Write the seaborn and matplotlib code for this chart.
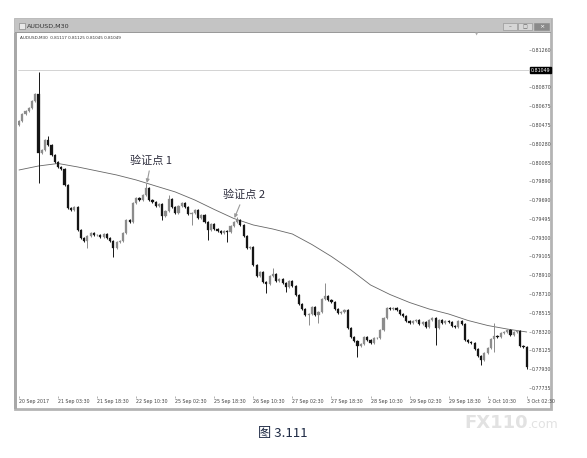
import matplotlib
matplotlib.use("Agg")
import matplotlib.pyplot as plt
import matplotlib.transforms as mtrans
from matplotlib.patches import Rectangle
import numpy as np
import pandas as pd
import seaborn as sns

# ---------------- data ----------------
first_open = 0.80480
closes = [
    0.80519, 0.80592, 0.80623, 0.80654, 0.80728, 0.80801, 0.80185, 0.80216, 0.80320, 0.80268,
    0.80164, 0.80091, 0.80039, 0.80018, 0.79851, 0.79610, 0.79590, 0.79621, 0.79381, 0.79297,
    0.79266, 0.79318, 0.79349, 0.79329, 0.79329, 0.79308, 0.79339, 0.79297, 0.79266, 0.79193,
    0.79256, 0.79266, 0.79349, 0.79485, 0.79464, 0.79663, 0.79715, 0.79694, 0.79746, 0.79819,
    0.79694, 0.79673, 0.79631, 0.79652, 0.79527, 0.79579, 0.79704, 0.79621, 0.79558, 0.79631,
    0.79663, 0.79621, 0.79548, 0.79558, 0.79590, 0.79506, 0.79537, 0.79464, 0.79381, 0.79443,
    0.79391, 0.79370, 0.79349, 0.79370, 0.79360, 0.79423, 0.79464, 0.79485, 0.79433, 0.79318,
    0.79193, 0.79203, 0.79015, 0.78901, 0.78942, 0.78838, 0.78817, 0.78901, 0.78921, 0.78848,
    0.78869, 0.78827, 0.78786, 0.78848, 0.78796, 0.78702, 0.78608, 0.78556, 0.78493, 0.78504,
    0.78577, 0.78493, 0.78525, 0.78660, 0.78692, 0.78650, 0.78629, 0.78556, 0.78514, 0.78525,
    0.78546, 0.78358, 0.78264, 0.78222, 0.78170, 0.78191, 0.78264, 0.78232, 0.78201, 0.78253,
    0.78253, 0.78337, 0.78462, 0.78566, 0.78556, 0.78566, 0.78546, 0.78504, 0.78483, 0.78431,
    0.78410, 0.78431, 0.78441, 0.78399, 0.78420, 0.78368, 0.78441, 0.78462, 0.78358, 0.78441,
    0.78410, 0.78431, 0.78420, 0.78379, 0.78368, 0.78431, 0.78399, 0.78232, 0.78212, 0.78201,
    0.78138, 0.78065, 0.78024, 0.78097, 0.78149, 0.78243, 0.78274, 0.78264, 0.78305, 0.78316,
    0.78337, 0.78285, 0.78316, 0.78326, 0.78170, 0.78159, 0.77951,
]
spike_highs = {6: 0.81030, 9: 0.80362, 39: 0.79871, 46: 0.79746, 67: 0.79517,
               78: 0.78984, 94: 0.78827, 146: 0.78410}
spike_lows = {6: 0.79871, 21: 0.79193, 29: 0.79099, 44: 0.79485, 53: 0.79433,
              58: 0.79276, 64: 0.79256, 76: 0.78723, 82: 0.78734, 89: 0.78389,
              92: 0.78410, 104: 0.78055, 128: 0.78180, 142: 0.77971, 146: 0.78107,
              156: 0.77935}
wick_extra = 0.00014

ma_index = list(range(0, 157, 6))
ma_values = [0.80007, 0.80049, 0.80075, 0.80039, 0.79997, 0.79955, 0.79903, 0.79840,
             0.79778, 0.79694, 0.79595, 0.79501, 0.79433, 0.79391, 0.79339, 0.79229,
             0.79104, 0.78963, 0.78807, 0.78707, 0.78624, 0.78556, 0.78504, 0.78436,
             0.78384, 0.78347, 0.78316]

time_labels = ["20 Sep 2017", "21 Sep 03:30", "21 Sep 18:30", "22 Sep 10:30",
               "25 Sep 02:30", "25 Sep 18:30", "26 Sep 10:30", "27 Sep 02:30",
               "27 Sep 18:30", "28 Sep 10:30", "29 Sep 02:30", "29 Sep 18:30",
               "2 Oct 10:30", "3 Oct 02:30"]
time_label_index = list(range(0, 157, 12))

price_ticks = [0.81260, 0.80870, 0.80675, 0.80475, 0.80280, 0.80085, 0.79890,
               0.79690, 0.79495, 0.79300, 0.79105, 0.78910, 0.78710, 0.78515,
               0.78320, 0.78125, 0.77930, 0.77735]
price_tick_labels = ["0.81260", "0.80870", "0.80675", "0.80475", "0.80280", "0.80085",
                     "0.79890", "0.79690", "0.79495", "0.79300", "0.79105", "0.78910",
                     "0.78710", "0.78515", "0.78320", "0.78125", "0.77930", "0.77735"]
hline_price = 0.81049
hline_label = "0.81049"

note1 = "验证点 1"
note1_target = (39.3, 0.79872)
note1_text = (40.6, 0.80101)
note2 = "验证点 2"
note2_target = (66.2, 0.79506)
note2_text = (69.1, 0.79746)

caption = "图 3.111"
window_title = "AUDUSD,M30"
header_text = "AUDUSD,M30  0.81117 0.81125 0.81045 0.81049"

# ---------------- build candles ----------------
n = len(closes)
idx = np.arange(n)
opens = [first_open] + closes[:-1]
df = pd.DataFrame({"i": idx, "open": opens, "close": closes})
df["high"] = [spike_highs.get(i, max(o, c) + wick_extra) for i, o, c in zip(idx, opens, closes)]
df["low"] = [spike_lows.get(i, min(o, c) - wick_extra) for i, o, c in zip(idx, opens, closes)]
df["bull"] = df["close"] >= df["open"]

# ---------------- figure ----------------
sns.set_style("white")
plt.rcParams["font.family"] = ["Noto Sans CJK SC", "DejaVu Sans"]

W, H = 587, 458
fig = plt.figure(figsize=(W / 100, H / 100), dpi=100)
fig.patch.set_facecolor("white")


def fx(px):
    return px / W


def fy(py):
    return 1 - py / H


def add_rect(x0, y0, x1, y1, z, **kw):
    r = Rectangle((fx(x0), fy(y1)), fx(x1) - fx(x0), fy(y0) - fy(y1),
                  transform=fig.transFigure, zorder=z, **kw)
    fig.patches.append(r)


# window frame (behind the chart axes)
add_rect(15, 19, 551, 409, -5, facecolor="white", edgecolor="#b4b4b4", linewidth=2.0)
add_rect(14, 33, 17, 409, -4, facecolor="#a8a8a8", edgecolor="none")
# title bar
add_rect(15, 19, 551, 32, -4, facecolor="#c4c4c4", edgecolor="none")
add_rect(15, 32, 551, 33, -4, facecolor="#9a9a9a", edgecolor="none")
add_rect(19, 23, 25, 29, -3, facecolor="#e8e8e8", edgecolor="#777777", linewidth=0.4)
fig.text(fx(27), fy(26), window_title, fontsize=4.6, color="#333333",
         va="center", ha="left", family=["DejaVu Sans"])
for x0, x1, col in [(503, 517, "#d6d6d6"), (518, 532, "#d6d6d6"), (534, 549, "#8a8a8a")]:
    add_rect(x0, 23, x1, 30, -3, facecolor=col, edgecolor="#8c8c8c", linewidth=0.4)
fig.text(fx(510), fy(26.5), "–", fontsize=4, color="#555555", ha="center", va="center",
         family=["DejaVu Sans"])
fig.text(fx(525), fy(26.5), "□", fontsize=3.5, color="#555555", ha="center", va="center",
         family=["DejaVu Sans"])
fig.text(fx(541.5), fy(26.5), "×", fontsize=4.5, color="white", ha="center", va="center",
         family=["DejaVu Sans"])

# chart axes
ax = fig.add_axes([fx(18), fy(396), fx(529) - fx(18), fy(33) - fy(396)])
ax.set_zorder(5)
ax.patch.set_alpha(0.0)
ax.set_xlim(-0.31, 156.7)
ax.set_ylim(0.77648, 0.81437)
for s in ax.spines.values():
    s.set_visible(False)

# horizontal price line
ax.axhline(hline_price, color="#cccccc", lw=0.6, zorder=1)

# moving average
sns.lineplot(x=ma_index, y=ma_values, ax=ax, color="#666666", lw=0.6, zorder=2)

# candles
bull_col, bear_col = "#8c8c8c", "#151515"
colors = np.where(df["bull"], bull_col, bear_col)
ax.vlines(df["i"], df["low"], df["high"], colors=colors, lw=0.7, zorder=3)
bottoms = np.minimum(df["open"], df["close"])
heights = np.maximum(np.abs(df["close"] - df["open"]), 0.00003)
ax.bar(df["i"], heights, bottom=bottoms, width=0.66, color=colors,
       edgecolor=colors, linewidth=0.2, zorder=4)

# annotations
arrow_kw = dict(arrowstyle="-|>", color="#9a9a9a", lw=0.8, mutation_scale=5,
                shrinkA=1, shrinkB=0)
ax.annotate(note1, xy=note1_target, xytext=note1_text, ha="center", va="center",
            fontsize=8, color="#2a2a3a", arrowprops=arrow_kw, zorder=6)
ax.annotate(note2, xy=note2_target, xytext=note2_text, ha="center", va="center",
            fontsize=8, color="#2a2a3a", arrowprops=arrow_kw, zorder=6)

# header text inside chart
ax.text(0.004, 0.993, header_text, transform=ax.transAxes, fontsize=3.0,
        color="#333333", va="top", ha="left", family=["DejaVu Sans"])
ax.text((477 - 18) / (529 - 18), 1.0, "▼", transform=ax.transAxes, fontsize=3,
        color="#aaaaaa", ha="center", va="top", family=["DejaVu Sans"])

# y axis on right
ax.yaxis.tick_right()
ax.set_yticks(price_ticks)
ax.set_yticklabels(price_tick_labels)
ax.tick_params(axis="y", direction="out", length=1.2, width=0.4, color="#777777",
               pad=1.0, labelsize=3.4, labelcolor="#444444", right=True, left=False)
trans = mtrans.blended_transform_factory(ax.transAxes, ax.transData)
ax.text(1.003, hline_price, hline_label, transform=trans, fontsize=3.4, color="white",
        va="center", ha="left", family=["DejaVu Sans"],
        bbox=dict(boxstyle="square,pad=0.15", fc="black", ec="black"))

# x axis
ax.set_xticks(time_label_index)
ax.set_xticklabels(time_labels, ha="left")
ax.tick_params(axis="x", direction="out", length=1.5, width=0.4, color="#777777",
               pad=1.0, labelsize=3.4, labelcolor="#444444", bottom=True)
for lab in ax.get_xticklabels() + ax.get_yticklabels():
    lab.set_family(["DejaVu Sans"])
ax.set_xlabel("")
ax.set_ylabel("")

# caption and watermark
fig.text(fx(282.5), fy(433), caption, fontsize=9.5, color="#1e2a44", ha="center", va="center")
fig.text(fx(464), fy(428), "FX110", fontsize=13, fontweight="bold", color="#e2e2e2",
         ha="left", va="baseline", family=["DejaVu Sans"])
fig.text(fx(528), fy(428), ".com", fontsize=9, color="#e2e2e2",
         ha="left", va="baseline", family=["DejaVu Sans"])

fig.savefig("out.png", dpi=100)
